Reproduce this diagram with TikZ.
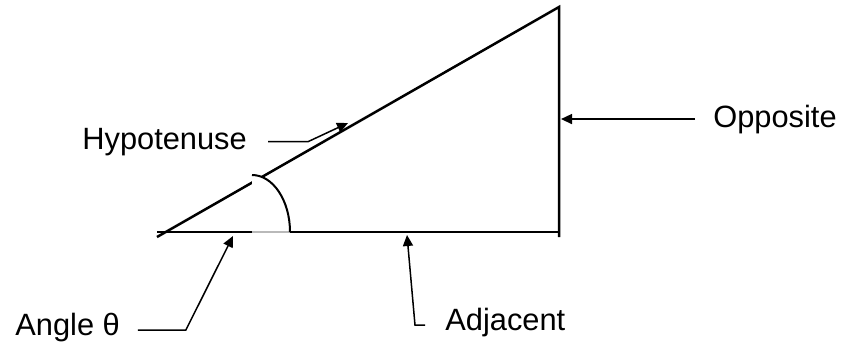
\documentclass[tikz,border=0pt]{standalone}
\usepackage{fontspec}
\setmainfont{Liberation Sans}
\usetikzlibrary{arrows.meta}
\tikzset{
  sidelabel/.style={font=\fontsize{15.4}{18}\selectfont,inner sep=0pt,anchor=base west},
  sideline/.style={line width=1.25pt,black},
  leaderline/.style={line width=0.75pt,black,-{Triangle[length=5.5pt,width=5pt]}},
  anglearc/.style={line width=1pt,black}
}

\begin{document}
\begin{tikzpicture}[x=0.5pt,y=0.5pt]
  \useasboundingbox (0,0) rectangle (843,344);
  % triangle corners
  \coordinate (left) at (157,112);
  \coordinate (right) at (559,112);
  \coordinate (apex) at (559,337);
  \coordinate (hypstart) at (157,107);
  \coordinate (rightfoot) at (559,107);
  \coordinate (arcfoot) at (252,112);
  \coordinate (arcend) at (290,112);

  \draw[sideline] (hypstart) -- (apex) -- (rightfoot);
  % angle marker
  \fill[white] (arcfoot) -- ++(0,57)
    arc[start angle=90,end angle=0,x radius=38,y radius=57] -- cycle;
  \draw[sideline] (left) -- (arcfoot);
  \draw[sideline] (arcend) -- (right);
  \draw[gray!55,line width=0.6pt] (arcfoot) -- (arcend);
  \draw[anglearc] (252,169)
    arc[start angle=90,end angle=0,x radius=38,y radius=57];

  % labels
  \node[sidelabel] (hyplabel) at (82,195) {Hypotenuse};
  \node[sidelabel] (opplabel) at (713,217) {Opposite};
  \node[sidelabel] (anglelabel) at (15,9) {Angle θ};
  \node[sidelabel] (adjlabel) at (445,14) {Adjacent};

  \coordinate (hyptip) at (348,221);
  \coordinate (oppside) at (561,225);
  \coordinate (angletip) at (233,108);
  \coordinate (adjtip) at (407,109);

  \draw[leaderline] ([xshift=10.5pt]hyplabel.east) -- ++(40,0) -- (hyptip);
  \draw[leaderline] ([xshift=-9pt]opplabel.west) -- (oppside |- opplabel.west);
  \draw[leaderline] ([xshift=8.8pt,yshift=-1.5pt]anglelabel.east) -- ++(48,0) -- (angletip);
  \draw[leaderline] ([xshift=-10pt,yshift=-1.5pt]adjlabel.west) -- ++(-10,0) -- (adjtip);
\end{tikzpicture}
\end{document}
